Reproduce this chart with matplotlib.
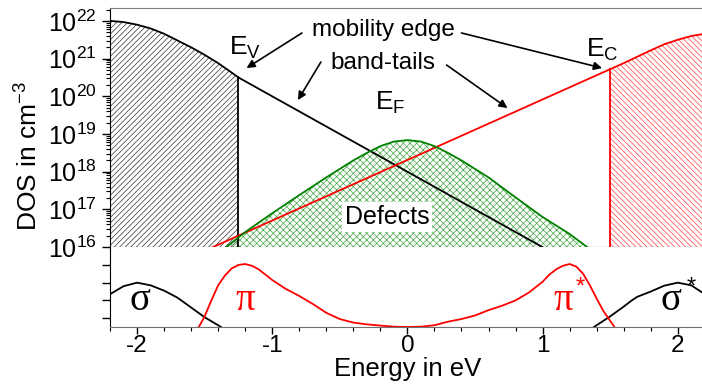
import numpy as np
import matplotlib
matplotlib.use("Agg")
import matplotlib.pyplot as plt
from matplotlib.ticker import MultipleLocator, LogLocator, NullFormatter, FixedLocator

plt.rcParams['font.family'] = ['Liberation Sans', 'DejaVu Sans']
plt.rcParams['mathtext.fontset'] = 'custom'
plt.rcParams['mathtext.rm'] = 'Liberation Sans'
plt.rcParams['mathtext.it'] = 'Liberation Sans:italic'
plt.rcParams['mathtext.default'] = 'rm'
plt.rcParams['axes.unicode_minus'] = False
plt.rcParams['hatch.linewidth'] = 0.5

# valence band (log10 of DOS)
vb_e = [-2.2, -2.1, -2.0, -1.9, -1.8, -1.7, -1.6, -1.5, -1.4, -1.3, -1.25]
vb_log = [22.0, 21.97, 21.9, 21.8, 21.66, 21.48, 21.3, 21.1, 20.88, 20.63, 20.5]
# valence band tail
vt_e = [-1.25, 1.0]
vt_log = [20.5, 16.0]
# conduction band tail
ct_e = [-1.44, 1.5]
ct_log = [16.0, 20.72]
# conduction band
cb_e = [1.5, 1.6, 1.7, 1.8, 1.9, 2.0, 2.1, 2.2]
cb_log = [20.72, 20.88, 21.05, 21.22, 21.38, 21.5, 21.6, 21.66]
# defects
def_e = [-1.34, -1.2, -1.0, -0.8, -0.6, -0.4, -0.3, -0.2, -0.1, 0.0,
         0.1, 0.2, 0.3, 0.4, 0.6, 0.8, 1.0, 1.2, 1.33]
def_log = [16.0, 16.4, 16.9, 17.38, 17.85, 18.3, 18.5, 18.68, 18.8, 18.84,
           18.8, 18.68, 18.5, 18.3, 17.85, 17.32, 16.8, 16.35, 16.0]

# lower panel: sigma / pi bands (arb. units)
sig_e = [-2.2, -2.1, -2.0, -1.9, -1.8, -1.7, -1.6, -1.5, -1.4, -1.3]
sig_v = [1.85, 2.3, 2.5, 2.35, 2.05, 1.65, 1.1, 0.55, 0.1, -0.4]
pi_e = [-1.65, -1.6, -1.55, -1.5, -1.45, -1.4, -1.35, -1.3, -1.25, -1.2, -1.15, -1.1,
        -1.05, -1.0, -0.9, -0.8, -0.7, -0.6, -0.5, -0.4, -0.3, -0.2, -0.1, 0.0]
pi_v = [-1.5, -0.8, -0.1, 0.6, 1.5, 2.35, 2.9, 3.3, 3.5, 3.55, 3.45, 3.25,
        2.95, 2.65, 2.15, 1.75, 1.3, 0.8, 0.45, 0.25, 0.15, 0.08, 0.02, 0.0]
pis_e = [0.0, 0.1, 0.2, 0.3, 0.4, 0.5, 0.6, 0.7, 0.8, 0.9, 1.0, 1.05, 1.1,
         1.15, 1.2, 1.25, 1.3, 1.35, 1.4, 1.45, 1.5, 1.55, 1.6]
pis_v = [0.0, 0.02, 0.1, 0.3, 0.45, 0.65, 0.95, 1.2, 1.5, 1.95, 2.55, 2.95, 3.25,
         3.45, 3.55, 3.4, 3.0, 2.35, 1.6, 0.9, 0.35, -0.2, -0.8]
sigs_e = [1.3, 1.38, 1.42, 1.5, 1.6, 1.66, 1.7, 1.8, 1.9, 2.0, 2.1, 2.2]
sigs_v = [-0.45, 0.0, 0.2, 0.6, 1.15, 1.5, 1.7, 2.0, 2.33, 2.5, 2.35, 1.85]

E_V = -1.25
E_C = 1.5

fig = plt.figure(figsize=(7.02, 3.85), dpi=100)
ax = fig.add_axes([0.1567, 0.358, 0.8473, 0.621])
ax2 = fig.add_axes([0.1567, 0.1506, 0.8473, 0.2074], sharex=ax)

p = lambda l: 10.0 ** np.array(l)

# hatched bands
ax.fill_between(vb_e, p(vb_log), 1e16, facecolor='none', edgecolor='#333333',
                hatch='//////', linewidth=0)
ax.fill_between(cb_e, p(cb_log), 1e16, facecolor='none', edgecolor='#ff4040',
                hatch='\\\\\\\\\\\\', linewidth=0)
ax.fill_between(def_e, p(def_log), 1e16, facecolor='none', edgecolor='#45a845',
                hatch='xxxxx', linewidth=0)

ax.plot(vb_e, p(vb_log), color='black', lw=1.3)
ax.plot(vt_e, p(vt_log), color='black', lw=1.3)
ax.plot([E_V, E_V], [1e16, 10 ** vb_log[-1]], color='black', lw=1.3)
ax.plot(ct_e, p(ct_log), color='red', lw=1.3)
ax.plot(cb_e, p(cb_log), color='red', lw=1.3)
ax.plot([E_C, E_C], [1e16, 10 ** cb_log[0]], color='red', lw=1.3)
ax.plot(def_e, p(def_log), color='green', lw=1.3)

ax.set_yscale('log')
ax.set_ylim(1e16, 10 ** 22.34)
ax.set_xlim(-2.2, 2.2)
ax.yaxis.set_major_locator(LogLocator(base=10, numticks=20))
ax.yaxis.set_minor_locator(LogLocator(base=10, subs=np.arange(2, 10), numticks=20))
ax.yaxis.set_minor_formatter(NullFormatter())
ax.tick_params(axis='y', labelsize=18, length=6, width=1)
ax.tick_params(axis='y', which='minor', length=3, width=0.8)
ax.tick_params(axis='x', labelbottom=False, length=5, width=1)
ax.tick_params(axis='x', which='minor', length=3, width=0.8)
ax.xaxis.set_major_locator(MultipleLocator(1))
ax.xaxis.set_minor_locator(MultipleLocator(0.2))
ax.spines['right'].set_visible(False)
ax.spines['top'].set_color('#808080')
ax.set_ylabel('DOS in cm$^{-3}$', fontsize=19)
ax.yaxis.set_label_coords(-0.113, 0.38)

# labels and arrows
ax.text(-0.18, 10 ** 21.76, 'mobility edge', fontsize=17.5, ha='center', va='center')
ax.text(-0.18, 10 ** 20.88, 'band-tails', fontsize=17.5, ha='center', va='center')
ax.text(-1.2, 10 ** 21.28, '$E_V$', fontsize=19, ha='center', va='center')
ax.text(-0.13, 10 ** 19.82, '$E_F$', fontsize=19, ha='center', va='center')
ax.text(1.44, 10 ** 21.23, '$E_C$', fontsize=19, ha='center', va='center')
ax.text(-0.15, 10 ** 16.8, 'Defects', fontsize=18, ha='center', va='center',
        bbox=dict(facecolor='white', edgecolor='none', pad=2))

arrows = [((-0.78, 21.68), (-1.19, 20.75)),
          ((0.40, 21.68), (1.44, 20.75)),
          ((-0.64, 20.91), (-0.81, 19.9)),
          ((0.29, 20.83), (0.74, 19.69))]
for (x0, y0), (x1, y1) in arrows:
    ax.annotate('', xy=(x1, 10 ** y1), xytext=(x0, 10 ** y0),
                arrowprops=dict(arrowstyle='-|>', color='black', lw=1.2,
                                mutation_scale=12, shrinkA=0, shrinkB=0))

# lower panel
ax2.plot(sig_e, sig_v, color='black', lw=1.3)
ax2.plot(sigs_e, sigs_v, color='black', lw=1.3)
ax2.plot(pi_e, pi_v, color='red', lw=1.3)
ax2.plot(pis_e, pis_v, color='red', lw=1.3)
ax2.set_ylim(0, 4.5)
ax2.yaxis.set_major_locator(FixedLocator([0.5, 1.5, 2.5, 3.5]))
ax2.tick_params(axis='y', labelleft=False, length=6, width=1)
ax2.tick_params(axis='x', labelsize=17.5, length=5, width=1, pad=1)
ax2.tick_params(axis='x', which='minor', length=3, width=0.8)
ax2.spines['right'].set_visible(False)
ax2.spines['top'].set_visible(False)
ax2.spines['bottom'].set_color('#707070')
ax2.set_xlabel('Energy in eV', fontsize=18.5, labelpad=0)

gk = dict(family=['Liberation Serif', 'DejaVu Serif'], fontsize=28, ha='center', va='center')
ax2.text(-1.98, 1.5, 'σ', color='black', **gk)
ax2.text(-1.2, 1.5, 'π', color='red', **gk)
ax2.text(1.15, 1.5, 'π', color='red', **gk)
ax2.text(1.28, 2.25, '*', color='red', fontsize=17, ha='center', va='center')
ax2.text(1.95, 1.5, 'σ', color='black', **gk)
ax2.text(2.1, 2.25, '*', color='black', fontsize=17, ha='center', va='center')

fig.savefig('out.png', dpi=100)
